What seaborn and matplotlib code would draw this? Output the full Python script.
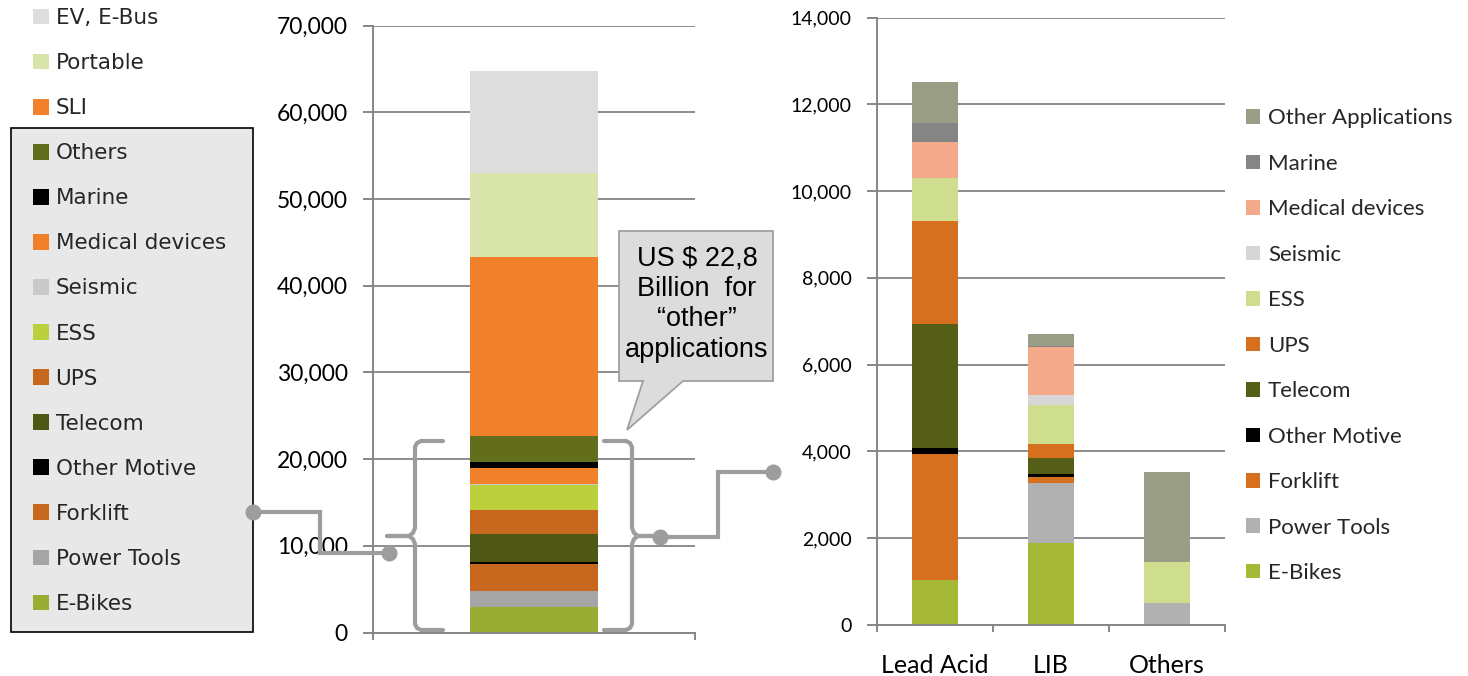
import matplotlib
matplotlib.use("Agg")
import matplotlib.pyplot as plt
import numpy as np
import pandas as pd
import seaborn as sns
from matplotlib.patches import Patch, Rectangle, Polygon
from matplotlib.ticker import FuncFormatter, FixedLocator

# ---------------- data ----------------
# Global battery market by application (bottom -> top of the stacked column)
apps_total = ["E-Bikes", "Power Tools", "Forklift", "Other Motive", "Telecom", "UPS",
              "ESS", "Seismic", "Medical devices", "Marine", "Others", "SLI",
              "Portable", "EV, E-Bus"]
market_total = [2950, 1860, 3110, 230, 3230, 2770, 2890, 110, 1840, 700, 3000,
                20640, 9700, 11770]
colors_total = ["#9aad33", "#a5a5a5", "#c8671e", "#000000", "#4e5814", "#c8671e",
                "#bcd03d", "#c9c9c9", "#f0802a", "#000000", "#636e1c", "#f0802a",
                "#d8e4a9", "#dddddd"]

# "Other" applications split by battery technology
technologies = ["Lead Acid", "LIB", "Others"]
apps_other = ["E-Bikes", "Power Tools", "Forklift", "Other Motive", "Telecom", "UPS",
              "ESS", "Seismic", "Medical devices", "Marine", "Other Applications"]
e_bikes = [1030, 1880, 0]
power_tools = [0, 1400, 500]
forklift = [2900, 140, 0]
other_motive = [160, 50, 0]
telecom = [2840, 390, 0]
ups = [2370, 320, 0]
ess = [1000, 880, 960]
seismic = [0, 250, 0]
medical_devices = [830, 1090, 0]
marine = [450, 30, 0]
other_applications = [930, 280, 2060]
colors_other = ["#a6b937", "#b1b1b1", "#d6701f", "#000000", "#545e17", "#d6701f",
                "#cfde8e", "#d6d6d6", "#f4a98a", "#858585", "#9a9e86"]

callout_text = "US $ 22,8\nBillion  for\n\u201cother\u201d\napplications"

# ---------------- style ----------------
sns.set_theme(style="white")
plt.rcParams["font.family"] = ["DejaVu Sans"]
AXIS_GRAY = "#868686"
LINK_GRAY = "#9d9d9d"

W, H = 1468, 676
fig = plt.figure(figsize=(W / 100, H / 100), dpi=100)


def axes_rect(x0, x1, ytop, ybot):
    return [x0 / W, 1 - ybot / H, (x1 - x0) / W, (ybot - ytop) / H]


ax_l = fig.add_axes(axes_rect(373, 695, 25.5, 632.5))
ax_r = fig.add_axes(axes_rect(877, 1225, 17.5, 625))

# ---------------- left: total market column ----------------
bottom = 0.0
for name, val, col in zip(apps_total, market_total, colors_total):
    sns.barplot(x=["Total"], y=[val], bottom=[bottom], color=col, saturation=1,
                width=0.4, linewidth=0, ax=ax_l)
    bottom += val

# ---------------- right: split by technology ----------------
series = [e_bikes, power_tools, forklift, other_motive, telecom, ups, ess, seismic,
          medical_devices, marine, other_applications]
stack_df = pd.DataFrame(np.array(series).T, index=technologies, columns=apps_other)
base = np.zeros(len(technologies))
for name, col in zip(apps_other, colors_other):
    vals = stack_df[name].to_numpy(dtype=float)
    sns.barplot(x=technologies, y=vals, bottom=base, color=col, saturation=1,
                width=0.405, linewidth=0, ax=ax_r, order=technologies)
    base = base + vals

fmt = FuncFormatter(lambda v, p: f"{v:,.0f}")
for ax, ymax, step, lsize in [(ax_l, 70000, 10000, 16.5), (ax_r, 14000, 2000, 14)]:
    ax.set_ylim(0, ymax)
    ax.set_yticks(np.arange(0, ymax + 1, step))
    ax.yaxis.set_major_formatter(fmt)
    ax.set_axisbelow(True)
    ax.yaxis.grid(True, color="#8c8c8c", linewidth=1.4)
    ax.xaxis.grid(False)
    for s in ["top", "right"]:
        ax.spines[s].set_visible(False)
    for s in ["left", "bottom"]:
        ax.spines[s].set_color(AXIS_GRAY)
        ax.spines[s].set_linewidth(1.4)
    ax.tick_params(axis="y", which="major", left=True, length=7.2, width=1.4,
                   color=AXIS_GRAY, pad=11, labelsize=lsize, labelcolor="black")
    for lab in ax.get_yticklabels():
        lab.set_fontfamily("Lato")
    ax.set_xlabel("")
    ax.set_ylabel("")
    ax.set_facecolor("white")

ax_l.set_xlim(-0.5, 0.5)
ax_l.set_xticks([])
ax_l.xaxis.set_minor_locator(FixedLocator([-0.5, 0.5]))
ax_l.tick_params(axis="x", which="minor", bottom=True, length=5, width=1.4,
                 color=AXIS_GRAY)

ax_r.set_xlim(-0.5, 2.5)
ax_r.set_xticks(range(len(technologies)))
ax_r.set_xticklabels(technologies)
ax_r.xaxis.set_minor_locator(FixedLocator([-0.5, 0.5, 1.5, 2.5]))
ax_r.tick_params(axis="x", which="major", bottom=False, length=0, pad=21,
                 labelsize=18, labelcolor="black")
ax_r.tick_params(axis="x", which="minor", bottom=True, length=5, width=1.4,
                 color=AXIS_GRAY)
for lab in ax_r.get_xticklabels():
    lab.set_fontfamily("Lato")

# ---------------- legends ----------------
handles_l = [Patch(facecolor=c, edgecolor="none") for c in colors_total][::-1]
leg_l = fig.legend(handles_l, apps_total[::-1], loc="upper left",
                   bbox_to_anchor=(33 / W, 1 - 8 / H), frameon=False,
                   fontsize=15.5, labelspacing=1.165, handlelength=0.75,
                   handleheight=0.75, handletextpad=0.3, borderpad=0,
                   borderaxespad=0)
leg_l.set_zorder(6)

handles_r = [Patch(facecolor=c, edgecolor="none") for c in colors_other][::-1]
leg_r = fig.legend(handles_r, apps_other[::-1], loc="upper left",
                   bbox_to_anchor=(1246 / W, 1 - 108.5 / H), frameon=False,
                   labelspacing=1.145, handlelength=0.63,
                   handleheight=0.63, handletextpad=0.36, borderpad=0,
                   borderaxespad=0, prop={"family": "Lato", "size": 16})
leg_r.set_zorder(6)

# ---------------- overlay: box, braces, connectors, callout ----------------
ov = fig.add_axes([0, 0, 1, 1], zorder=5)
ov.set_xlim(0, W)
ov.set_ylim(H, 0)
ov.axis("off")
ov.patch.set_alpha(0)

# gray panel behind the "other" application entries
ov.add_patch(Rectangle((11, 128), 242, 504, facecolor="#e8e8e8",
                       edgecolor="black", linewidth=1.2, zorder=1))

# curly braces around the "other" part of the column
brace_kw = dict(color=LINK_GRAY, linewidth=3.0, solid_joinstyle="round",
                solid_capstyle="round", zorder=3)
ov.plot([443, 421, 417, 415, 415, 413, 409, 387],
        [441, 441, 443, 447, 528, 533, 536, 536], **brace_kw)
ov.plot([387, 409, 413, 415, 415, 417, 421, 443],
        [536, 536, 539, 544, 624, 628, 630, 630], **brace_kw)
ov.plot([604, 626, 630, 632, 632, 634, 638, 657],
        [441, 441, 443, 447, 528, 533, 536, 536], **brace_kw)
ov.plot([657, 638, 634, 632, 632, 630, 626, 604],
        [536, 536, 539, 544, 624, 628, 630, 630], **brace_kw)

# connectors with round end points
link_kw = dict(color=LINK_GRAY, linewidth=3.0, solid_joinstyle="miter", zorder=3)
ov.plot([253, 320, 320, 389], [512, 512, 553, 553], **link_kw)
ov.plot([660, 718, 718, 773], [537, 537, 472, 472], **link_kw)
ov.plot([253, 389, 660, 773], [512, 553, 537, 472], linestyle="none", marker="o",
        markersize=10.5, color=LINK_GRAY, zorder=4)

# callout bubble
bubble = Polygon([(619, 231), (773, 231), (773, 381), (683, 381), (627, 430),
                  (643, 381), (619, 381)], closed=True, facecolor="#dcdcdc",
                 edgecolor="#a0a0a0", linewidth=1.3, zorder=4)
ov.add_patch(bubble)
ov.text(697, 304, callout_text, ha="center", va="center", fontsize=19.5,
        family="Liberation Sans", linespacing=1.22, color="black", zorder=5)

fig.savefig("out.png", dpi=100)
